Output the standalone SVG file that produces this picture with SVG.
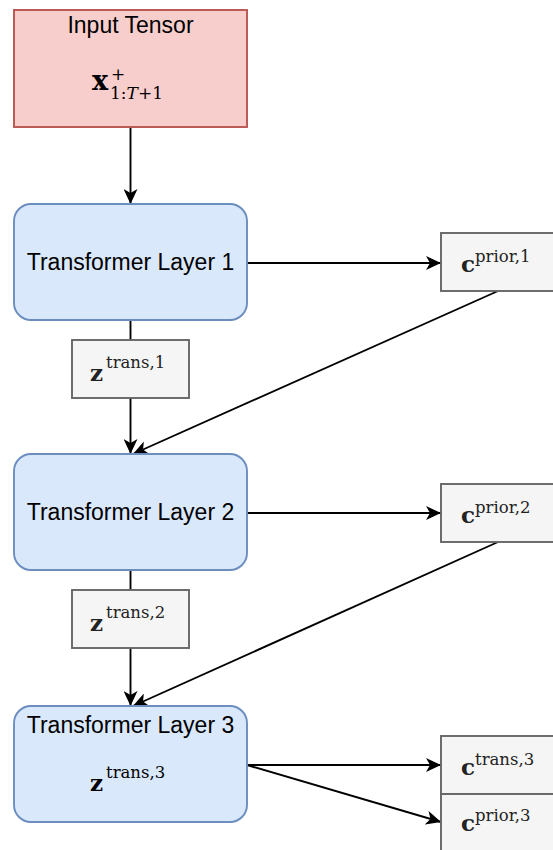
<svg xmlns="http://www.w3.org/2000/svg" width="553" height="850" viewBox="0 0 553 850">
<defs>
<marker id="arr" markerUnits="userSpaceOnUse" markerWidth="16" markerHeight="14" refX="15" refY="7" orient="auto">
<path d="M0,0 L15,7 L0,14 L4,7 Z" fill="#000"/>
</marker>
<style>
.lbl{font-family:"Liberation Sans",Arial,sans-serif;font-size:23px;fill:#000;text-anchor:middle}
.red{fill:#f8cecc;stroke:#b85450;stroke-width:1.9}
.blue{fill:#dae8fc;stroke:#6c8ebf;stroke-width:1.9}
.gray{fill:#f5f5f5;stroke:#666666;stroke-width:1.9}
.mb{font-family:"DejaVu Serif","Liberation Serif",serif;font-weight:bold;fill:#222}
.ms{font-family:"DejaVu Serif","Liberation Serif",serif;font-size:16.5px;fill:#222}
.mx{font-family:"DejaVu Serif","Liberation Serif",serif;fill:#000}
.edge{stroke:#000;stroke-width:1.9;fill:none}
</style>
</defs>
<rect width="553" height="850" fill="#fff"/>
<g id="connectors">
<line class="edge" x1="130.5" y1="127" x2="130.5" y2="204" marker-end="url(#arr)"/>
<line class="edge" x1="247" y1="263" x2="441" y2="263" marker-end="url(#arr)"/>
<line class="edge" x1="130.5" y1="320" x2="130.5" y2="340"/>
<line class="edge" x1="130.5" y1="398" x2="130.5" y2="454" marker-end="url(#arr)"/>
<line class="edge" x1="498" y1="291" x2="133" y2="454" marker-end="url(#arr)"/>
<line class="edge" x1="247" y1="513" x2="441" y2="513" marker-end="url(#arr)"/>
<line class="edge" x1="130.5" y1="570" x2="130.5" y2="590"/>
<line class="edge" x1="130.5" y1="648" x2="130.5" y2="706" marker-end="url(#arr)"/>
<line class="edge" x1="498" y1="542" x2="133" y2="706" marker-end="url(#arr)"/>
<line class="edge" x1="247" y1="765" x2="441" y2="765" marker-end="url(#arr)"/>
<line class="edge" x1="247" y1="765" x2="441" y2="822" marker-end="url(#arr)"/>
</g>
<g id="input">
<rect class="red" x="14" y="10" width="233" height="117"/>
<text class="lbl" x="130.5" y="33">Input Tensor</text>
<text class="mx" font-weight="bold" font-size="27" x="92" y="90">x</text>
<text class="mx" font-size="17" x="111" y="80">+</text>
<text class="mx" font-size="17" x="110" y="99">1:<tspan font-style="italic">T</tspan>+1</text>
</g>
<g id="layer1">
<rect class="blue" x="14" y="204" width="233" height="116" rx="17"/>
<text class="lbl" x="130.5" y="270">Transformer Layer 1</text>
</g>
<g id="cprior1">
<rect class="gray" x="441" y="233" width="120" height="58"/>
<text class="mb" font-size="23" x="461" y="272">c</text>
<text class="ms" x="475" y="262">prior,1</text>
</g>
<g id="ztrans1">
<rect class="gray" x="72" y="340" width="117" height="58"/>
<text class="mb" font-size="23" x="90" y="381">z</text>
<text class="ms" x="106" y="368">trans,1</text>
</g>
<g id="layer2">
<rect class="blue" x="14" y="454" width="233" height="116" rx="17"/>
<text class="lbl" x="130.5" y="520">Transformer Layer 2</text>
</g>
<g id="cprior2">
<rect class="gray" x="441" y="484" width="120" height="58"/>
<text class="mb" font-size="23" x="461" y="523">c</text>
<text class="ms" x="475" y="513">prior,2</text>
</g>
<g id="ztrans2">
<rect class="gray" x="72" y="590" width="117" height="58"/>
<text class="mb" font-size="23" x="90" y="631">z</text>
<text class="ms" x="106" y="618">trans,2</text>
</g>
<g id="layer3">
<rect class="blue" x="14" y="706" width="233" height="116" rx="17"/>
<text class="lbl" x="130.5" y="733">Transformer Layer 3</text>
<text class="mb" font-size="23" x="90" y="791" style="fill:#000">z</text>
<text class="ms" x="106" y="778" style="fill:#000">trans,3</text>
</g>
<g id="ctrans3">
<rect class="gray" x="441" y="736" width="120" height="58"/>
<text class="mb" font-size="23" x="461" y="775">c</text>
<text class="ms" x="475" y="765">trans,3</text>
</g>
<g id="cprior3">
<rect class="gray" x="441" y="794" width="120" height="58"/>
<text class="mb" font-size="23" x="461" y="831">c</text>
<text class="ms" x="475" y="821">prior,3</text>
</g>
</svg>
